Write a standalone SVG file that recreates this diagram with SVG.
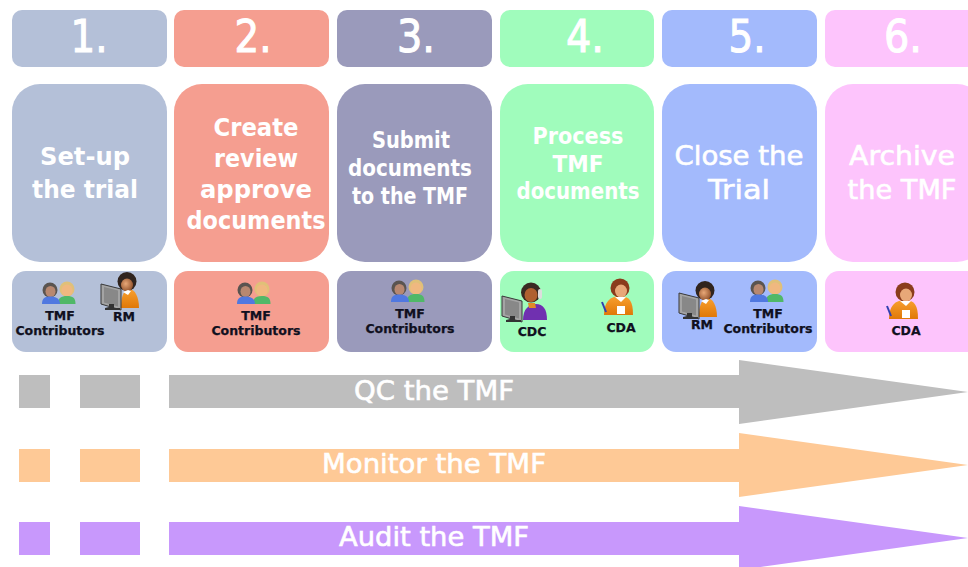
<svg xmlns="http://www.w3.org/2000/svg" width="968" height="567" viewBox="0 0 968 567">
<style>
text{font-family:"DejaVu Sans","Liberation Sans",sans-serif;text-anchor:middle}
.n{font-size:45px;fill:#fff;stroke:#fff;stroke-width:1.1px}
.t{font-weight:bold;fill:#fff;font-size:25px}
.s{font-size:22.5px}
.w{font-weight:normal;font-size:27px;stroke:#fff;stroke-width:.6px}
.l{font-weight:bold;fill:#101020;font-size:12.5px;stroke:#101020;stroke-width:.25px}
.a{fill:#fff;font-size:26.5px;stroke:#fff;stroke-width:.6px}
.c1{fill:#b4c0d8}.c2{fill:#f59e90}.c3{fill:#9a9abb}.c4{fill:#a0fcbc}.c5{fill:#a3bafc}.c6{fill:#fdc4fc}
</style>
<defs>
<radialGradient id="skin" cx=".4" cy=".4" r=".7"><stop offset="0" stop-color="#e8a878"/><stop offset="1" stop-color="#8a4a24"/></radialGradient>
<linearGradient id="orange" x1="0" y1="0" x2="0" y2="1"><stop offset="0" stop-color="#f8a030"/><stop offset="1" stop-color="#e07808"/></linearGradient>
<g id="pair">
<circle cx="26" cy="8" r="7.5" fill="#e0c078"/><ellipse cx="26" cy="9.500" rx="5.500" ry="6" fill="#f0b880"/>
<path d="M17 23c0-6 3-8 9-8s8.500 2 8.500 8z" fill="#50b868"/>
<circle cx="9" cy="9" r="7.500" fill="#5a5450"/><ellipse cx="9.500" cy="10.500" rx="5" ry="5.500" fill="#b88870"/>
<path d="M1 23c0-6 3-7.500 8.500-7.500s9.500 2 9.500 7.500z" fill="#5078e0"/>
</g>
<g id="monitor">
<path d="M0 0l20 5v21l-20-6z" fill="#a4a4a4" stroke="#383838" stroke-width="1"/><path d="M3 3l14 3.500v16l-14-4z" fill="#888"/>
<path d="M8 20h5v4h6v2h-15v-2l4-1z" fill="#333"/>
</g>
<g id="rm">
<path d="M20 36c0-11 2-17 8-19 6 0 10 8 10 19z" fill="url(#orange)"/>
<circle cx="26" cy="9.500" r="9.500" fill="#30241e"/><ellipse cx="26" cy="13" rx="6" ry="6.500" fill="url(#skin)"/>
<path d="M22 20l5 3 3-4-3-1z" fill="#fff"/>
<use href="#monitor" x="0" y="12"/>
</g>
<g id="cda">
<path d="M3 36c0-13 6-19 16-19s13 6 13 19z" fill="url(#orange)"/>
<circle cx="19" cy="9" r="9.500" fill="#8a3c1c"/><ellipse cx="20" cy="12" rx="6" ry="6.500" fill="#e8a878"/>
<path d="M14 18l6 5 5-5z" fill="#fff"/>
<path d="M16 27h8v8h-8z" fill="#fff"/><path d="M1 23l4 10" stroke="#3040b0" stroke-width="2"/>
</g>
<g id="cdc">
<path d="M21 37c0-11 6-16 13-16s11 5 11 16z" fill="#7030b0"/>
<circle cx="29" cy="9.500" r="10" fill="#3a2a22"/><ellipse cx="29" cy="12" rx="6.500" ry="7" fill="#b06030"/>
<rect x="36" y="6" width="4" height="10" rx="2" fill="#ddd"/>
<path d="M26 20h7l1 5h-7z" fill="#e08a28"/>
<use href="#monitor" x="0" y="13"/>
</g>
</defs>

<g id="step-1">
<rect class="c1" x="12" y="10" width="155" height="57" rx="10"/><text class="n" x="89" y="52" textLength="37" lengthAdjust="spacingAndGlyphs">1.</text>
<rect class="c1" x="12" y="84" width="155" height="178" rx="28"/><text class="t" x="85" y="165" textLength="90" lengthAdjust="spacingAndGlyphs">Set-up</text><text class="t" x="85" y="198" textLength="106" lengthAdjust="spacingAndGlyphs">the trial</text>
<rect class="c1" x="12" y="271" width="155" height="81" rx="14"/>
<use href="#pair" x="41" y="281"/><use href="#rm" x="101" y="272"/>
<text class="l" x="60" y="320">TMF</text><text class="l" x="60" y="335">Contributors</text><text class="l" x="124" y="321">RM</text>
</g>
<g id="step-2">
<rect class="c2" x="174" y="10" width="155" height="57" rx="10"/><text class="n" x="253" y="52" textLength="37" lengthAdjust="spacingAndGlyphs">2.</text>
<rect class="c2" x="174" y="84" width="155" height="178" rx="28"/><text class="t" x="256" y="136" textLength="85" lengthAdjust="spacingAndGlyphs">Create</text><text class="t" x="256" y="167" textLength="84" lengthAdjust="spacingAndGlyphs">review</text><text class="t" x="256" y="198" textLength="112" lengthAdjust="spacingAndGlyphs">approve</text><text class="t" x="256" y="229" textLength="139" lengthAdjust="spacingAndGlyphs">documents</text>
<rect class="c2" x="174" y="271" width="155" height="81" rx="14"/>
<use href="#pair" x="236" y="281"/>
<text class="l" x="256" y="320">TMF</text><text class="l" x="256" y="335">Contributors</text>
</g>
<g id="step-3">
<rect class="c3" x="337" y="10" width="155" height="57" rx="10"/><text class="n" x="416" y="52" textLength="38" lengthAdjust="spacingAndGlyphs">3.</text>
<rect class="c3" x="337" y="84" width="155" height="178" rx="28"/><text class="t s" x="411" y="148" textLength="78" lengthAdjust="spacingAndGlyphs">Submit</text><text class="t s" x="410" y="176" textLength="124" lengthAdjust="spacingAndGlyphs">documents</text><text class="t s" x="410" y="204" textLength="116" lengthAdjust="spacingAndGlyphs">to the TMF</text>
<rect class="c3" x="337" y="271" width="155" height="81" rx="14"/>
<use href="#pair" x="390" y="279"/>
<text class="l" x="410" y="318">TMF</text><text class="l" x="410" y="333">Contributors</text>
</g>
<g id="step-4">
<rect class="c4" x="500" y="10" width="154" height="57" rx="10"/><text class="n" x="585" y="52" textLength="38" lengthAdjust="spacingAndGlyphs">4.</text>
<rect class="c4" x="500" y="84" width="154" height="178" rx="28"/><text class="t s" x="578" y="144" textLength="91" lengthAdjust="spacingAndGlyphs">Process</text><text class="t s" x="578" y="172" textLength="51" lengthAdjust="spacingAndGlyphs">TMF</text><text class="t s" x="578" y="199" textLength="123" lengthAdjust="spacingAndGlyphs">documents</text>
<rect class="c4" x="500" y="271" width="154" height="81" rx="14"/>
<use href="#cdc" x="502" y="283"/><use href="#cda" x="601" y="279"/>
<text class="l" x="532" y="336">CDC</text><text class="l" x="621" y="332">CDA</text>
</g>
<g id="step-5">
<rect class="c5" x="662" y="10" width="155" height="57" rx="10"/><text class="n" x="747" y="52" textLength="37" lengthAdjust="spacingAndGlyphs">5.</text>
<rect class="c5" x="662" y="84" width="155" height="178" rx="28"/><text class="t w" x="739" y="165" textLength="129" lengthAdjust="spacingAndGlyphs">Close the</text><text class="t w" x="739" y="199" textLength="62" lengthAdjust="spacingAndGlyphs">Trial</text>
<rect class="c5" x="662" y="271" width="155" height="81" rx="14"/>
<use href="#rm" x="679" y="281"/><use href="#pair" x="749" y="279"/>
<text class="l" x="702" y="329">RM</text><text class="l" x="768" y="318">TMF</text><text class="l" x="768" y="333">Contributors</text>
</g>
<g id="step-6">
<rect class="c6" x="825" y="10" width="160" height="57" rx="10"/><text class="n" x="903" y="52" textLength="38" lengthAdjust="spacingAndGlyphs">6.</text>
<rect class="c6" x="825" y="84" width="160" height="178" rx="28"/><text class="t w" x="902" y="165" textLength="106" lengthAdjust="spacingAndGlyphs">Archive</text><text class="t w" x="902" y="199" textLength="109" lengthAdjust="spacingAndGlyphs">the TMF</text>
<rect class="c6" x="825" y="271" width="160" height="81" rx="14"/>
<use href="#cda" x="886" y="283"/>
<text class="l" x="906" y="335">CDA</text>
</g>
<g id="connectors">
<g id="qc" fill="#bebebe">
<rect x="19" y="375" width="31" height="33"/><rect x="80" y="375" width="60" height="33"/>
<path d="M169 375H739V360L968 392 739 424V408H169z"/>
<text class="a" x="434" y="400" textLength="160" lengthAdjust="spacingAndGlyphs">QC the TMF</text>
</g>
<g id="monitor-tmf" fill="#fec996">
<rect x="19" y="449" width="31" height="33"/><rect x="80" y="449" width="60" height="33"/>
<path d="M169 449H739V433L968 465 739 497V482H169z"/>
<text class="a" x="434" y="473" textLength="224" lengthAdjust="spacingAndGlyphs">Monitor the TMF</text>
</g>
<g id="audit" fill="#c898fc">
<rect x="19" y="522" width="31" height="33"/><rect x="80" y="522" width="60" height="33"/>
<path d="M169 522H739V506L968 538 739 570V555H169z"/>
<text class="a" x="434" y="546" textLength="190" lengthAdjust="spacingAndGlyphs">Audit the TMF</text>
</g>
</g>
</svg>
